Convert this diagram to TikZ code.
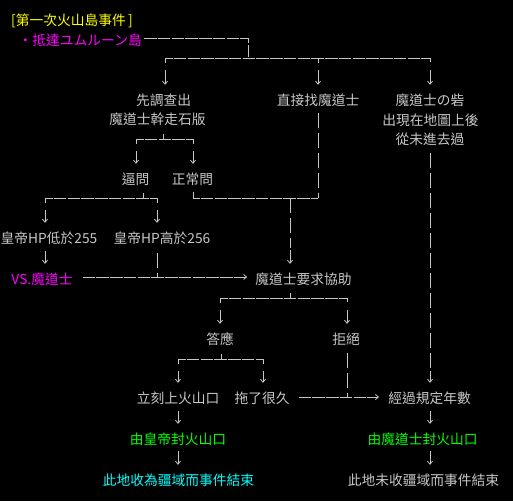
\documentclass[tikz,border=0pt]{standalone}
\usepackage{fontspec}
\setmainfont{Noto Sans CJK TC}
\usetikzlibrary{arrows.meta,calc}
\definecolor{TextClr}{rgb}{0.78,0.78,0.78}
\definecolor{TitleClr}{rgb}{1,1,0}
\definecolor{MageClr}{rgb}{1,0,1}
\definecolor{SealClr}{rgb}{0,1,0}
\definecolor{EndClr}{rgb}{0,1,1}

\tikzset{
  lbl/.style={anchor=base,inner sep=0pt,text height=10pt,text depth=3pt,text=TextClr,
    font=\fontsize{13.75pt}{16pt}\selectfont},
  hl/.style={draw=TextClr,line width=0.8pt,dash pattern=on 12.5pt off 1.25pt},
  vl/.style={draw=TextClr,line width=0.8pt,dash pattern=on 15pt off 5pt},
  arr/.style={draw=TextClr,line width=0.8pt,-{Straight Barb[length=3pt,width=5pt]},shorten >=10pt},
  harr/.style={hl,-{Straight Barb[length=3pt,width=5pt]}},
}

\begin{document}
\begin{tikzpicture}[x=1pt,y=-1pt]
\useasboundingbox (0,0) rectangle (513,501);
\fill[black] (0,0) rectangle (513,501);

\node[lbl,text=TitleClr,anchor=base west] (title) at (11,25) {[第一次火山島事件\,]};
\node[lbl,text=MageClr,anchor=base east] (arrive) at (142,45) {・抵達ユムルーン島};

\node[lbl] (probe) at (163.5,105) {先調查出};
\node[lbl] (tablet) at (157.5,124) {魔道士幹走石版};
\node[lbl] (direct) at (318,105) {直接找魔道士};
\node[lbl] (fort) at (430,105) {魔道士の砦};
\node[lbl] (appear) at (430.5,125) {出現在地圖上後};
\node[lbl] (never) at (430,144) {從未進去過};

\node[lbl] (press) at (135.5,184) {逼問};
\node[lbl] (normal) at (192.5,184) {正常問};
\node[lbl] (low) at (49,243) {皇帝HP低於255};
\node[lbl] (high) at (162,243) {皇帝HP高於256};
\node[lbl,text=MageClr] (vs) at (42,284) {VS.魔道士};
\node[lbl] (help) at (303.5,284) {魔道士要求協助};

\node[lbl] (accept) at (220,344) {答應};
\node[lbl] (refuse) at (346,344) {拒絕};
\node[lbl] (climb) at (178,403) {立刻上火山口};
\node[lbl] (delay) at (262,403) {拖了很久};
\node[lbl] (years) at (429.5,403) {經過規定年數};
\node[lbl,text=SealClr] (sealE) at (178,444) {由皇帝封火山口};
\node[lbl,text=SealClr] (sealM) at (422.5,444) {由魔道士封火山口};
\node[lbl,text=EndClr] (endE) at (178.5,485) {此地收為疆域而事件結束};
\node[lbl] (endM) at (423.5,485) {此地未收疆域而事件結束};

\coordinate (j0) at (248,58);
\coordinate (bL) at (165,58);
\coordinate (bM) at (318,58);
\coordinate (bR) at (430,58);
\draw[hl] ($(arrive.east)+(2,-3)$) -| (j0);
\draw[hl] ($(bL)+(0,5)$) -- (bL) -- (bR) -- ($(bR)+(0,5)$);
\draw[hl] (bM) -- ($(bM)+(0,5)$);
\draw[arr] ($(bL)+(0,12)$) -- (bL |- probe.north);
\draw[arr] ($(bM)+(0,12)$) -- (bM |- direct.north);
\draw[arr] ($(bR)+(0,12)$) -- (bR |- fort.north);

\coordinate (k1) at (163,139);
\coordinate (k1L) at (136,139);
\coordinate (k1R) at (193,139);
\draw[hl] ($(k1)+(0,-5)$) -- (k1);
\draw[hl] ($(k1L)+(0,5)$) -- (k1L) -- (k1R) -- ($(k1R)+(0,5)$);
\draw[arr] ($(k1L)+(0,12)$) -- (k1L |- press.north);
\draw[arr] ($(k1R)+(0,12)$) -- (k1R |- normal.north);

\coordinate (k2) at (143,198);
\coordinate (k2L) at (45,198);
\coordinate (k2R) at (157,198);
\draw[hl] ($(k2)+(0,-5)$) -- (k2);
\draw[hl] ($(k2L)+(0,5)$) -- (k2L) -- (k2R) -- ($(k2R)+(0,5)$);
\draw[arr] ($(k2L)+(0,12)$) -- (k2L |- low.north);
\draw[arr] ($(k2R)+(0,12)$) -- (k2R |- high.north);

\coordinate (k3) at (193,198);
\coordinate (k3R) at (318,198);
\coordinate (k4) at (290,198);
\draw[hl] ($(k3)+(0,-6)$) -- (k3) -- (k3R);
\draw[vl] ($(k3R |- direct.south)+(0,5)$) -- (k3R);
\draw[vl] (k4) -- ($(k4)+(0,50)$);
\draw[arr] ($(k4)+(0,52)$) -- (k4 |- help.north);

\coordinate (k5) at (157,277);
\draw[arr] ($(k2L |- low.south)+(0,5)$) -- (k2L |- vs.north);
\draw[vl] ($(k2R |- high.south)+(0,7)$) -- (k5);
\draw[harr] ($(vs.east |- k5)+(10,0)$) -- ($(help.west |- k5)+(-8,0)$);

\coordinate (k6) at (290,298);
\coordinate (k6L) at (220,298);
\coordinate (k6R) at (347,298);
\draw[hl] ($(k6)+(0,-5)$) -- (k6);
\draw[hl] ($(k6L)+(0,5)$) -- (k6L) -- (k6R) -- ($(k6R)+(0,5)$);
\draw[arr] ($(k6L)+(0,12)$) -- (k6L |- accept.north);
\draw[arr] ($(k6R)+(0,12)$) -- (k6R |- refuse.north);

\coordinate (k7) at (221,359);
\coordinate (k7L) at (178,359);
\coordinate (k7R) at (263,359);
\draw[hl] ($(k7)+(0,-5)$) -- (k7);
\draw[hl] ($(k7L)+(0,5)$) -- (k7L) -- (k7R) -- ($(k7R)+(0,5)$);
\draw[arr] ($(k7L)+(0,12)$) -- (k7L |- climb.north);
\draw[arr] ($(k7R)+(0,12)$) -- (k7R |- delay.north);

\coordinate (k8) at (347,397);
\draw[vl] ($(k6R |- refuse.south)+(0,6)$) -- (k8);
\draw[harr] ($(delay.east |- k8)+(9,0)$) -- ($(years.west |- k8)+(-9,0)$);

\coordinate (k9) at (430,371);
\draw[vl] ($(bR |- never.south)+(0,6)$) -- ($(k9)+(0,-2)$);
\draw[arr] (k9) -- (k9 |- years.north);

\draw[arr] ($(k7L |- climb.south)+(0,5)$) -- (k7L |- sealE.north);
\draw[arr] ($(k7L |- sealE.south)+(0,4)$) -- (k7L |- endE.north);
\draw[arr] ($(k9 |- years.south)+(0,5)$) -- (k9 |- sealM.north);
\draw[arr] ($(k9 |- sealM.south)+(0,4)$) -- (k9 |- endM.north);

\end{tikzpicture}
\end{document}
